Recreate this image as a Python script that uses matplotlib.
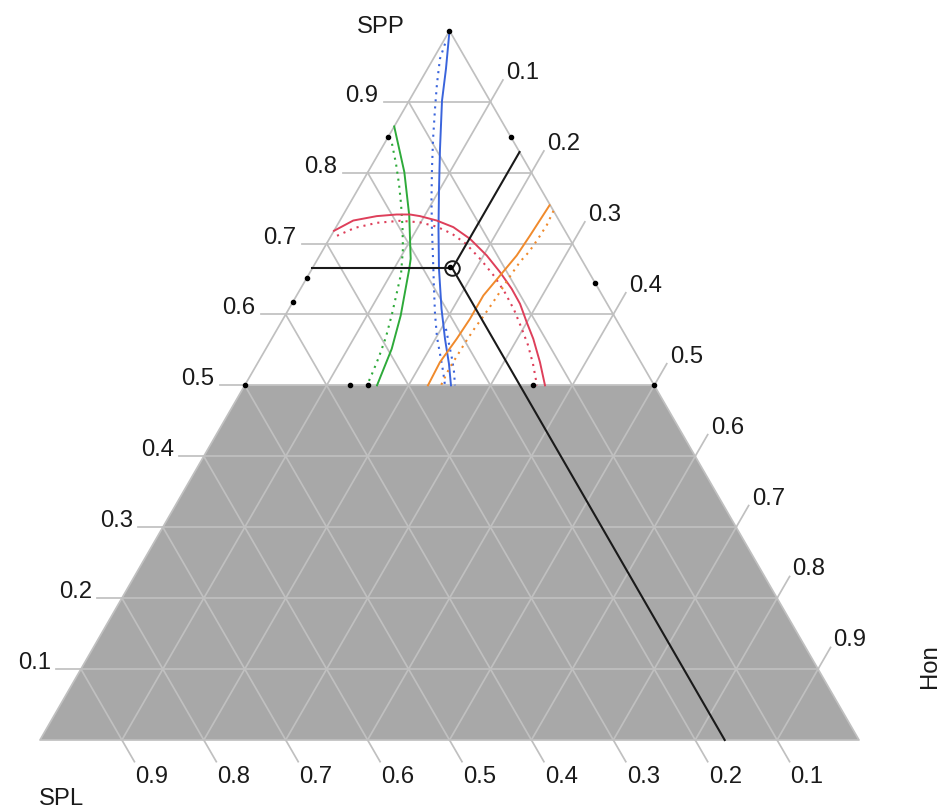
import numpy as np
import matplotlib
matplotlib.use("Agg")
import matplotlib.pyplot as plt
from matplotlib.patches import Polygon

plt.rcParams['font.family'] = ['Liberation Sans', 'DejaVu Sans']

# ---- axis ticks -------------------------------------------------------
tick_values = [0.1, 0.2, 0.3, 0.4, 0.5, 0.6, 0.7, 0.8, 0.9]
tick_labels = ["0.1", "0.2", "0.3", "0.4", "0.5", "0.6", "0.7", "0.8", "0.9"]
component_names = ["SPP", "SPL", "Hon"]

# lower limit on SPP (shaded infeasible region below it)
spp_lower_limit = 0.5

# ---- contour curves, as (SPP, Hon) mixture fractions -------------------
green_spp = [0.865, 0.8007, 0.7395, 0.6784, 0.6643, 0.5984, 0.5515, 0.50]
green_hon = [0.000, 0.0445, 0.0811, 0.1134, 0.1187, 0.1412, 0.1537, 0.1615]
green_lo_spp = [0.8406, 0.8124, 0.7842, 0.756, 0.7236, 0.6925, 0.6573, 0.6319,
                0.6008, 0.5684, 0.5402, 0.5162, 0.50]
green_lo_hon = [0.0095, 0.0285, 0.0462, 0.0628, 0.0808, 0.0969, 0.1122, 0.1200,
                0.1294, 0.1383, 0.1438, 0.1473, 0.1493]

blue_spp = [1.0, 0.9464, 0.9013, 0.8336, 0.7772, 0.7207, 0.6643, 0.6079,
            0.5656, 0.5303, 0.50]
blue_hon = [0.0, 0.0225, 0.0402, 0.0716, 0.0986, 0.1262, 0.1550, 0.1863,
            0.2117, 0.2342, 0.2518]
blue_lo_spp = [0.9817, 0.9605, 0.9252, 0.89, 0.8477, 0.8054, 0.763, 0.7207,
               0.6784, 0.6361, 0.6008, 0.5684, 0.5444, 0.5204, 0.50]
blue_lo_hon = [0.0037, 0.0081, 0.0221, 0.0373, 0.0561, 0.0759, 0.0965, 0.1182,
               0.1407, 0.1630, 0.1819, 0.2005, 0.2162, 0.2319, 0.2445]
blue_hi_spp = [0.5797, 0.5585, 0.5374, 0.519, 0.50]
blue_hi_hon = [0.2058, 0.2201, 0.2344, 0.2460, 0.2567]

red_spp = [0.7179, 0.7324, 0.7386, 0.7409, 0.7409, 0.7386, 0.7324, 0.7231,
           0.7066, 0.6831, 0.6597, 0.6361, 0.615, 0.5891, 0.5656, 0.5327, 0.50]
red_hon = [0.0, 0.0163, 0.0418, 0.0650, 0.0813, 0.0947, 0.1182, 0.1431,
           0.1717, 0.2039, 0.2318, 0.2579, 0.2786, 0.2997, 0.3195, 0.3441, 0.3666]
red_lo_spp = [0.7109, 0.7221, 0.7292, 0.732, 0.7299, 0.7236, 0.7137, 0.6996,
              0.677, 0.6544, 0.6305, 0.6065, 0.5825, 0.5571, 0.5303, 0.50]
red_lo_hon = [0.0072, 0.0235, 0.0469, 0.0736, 0.0990, 0.1229, 0.1463, 0.1703,
              0.2000, 0.2271, 0.2526, 0.2756, 0.2961, 0.3172, 0.3368, 0.3568]

orange_spp = [0.7539, 0.7113, 0.6831, 0.6549, 0.6267, 0.5938, 0.5656, 0.5327, 0.50]
orange_hon = [0.2452, 0.2427, 0.2405, 0.2343, 0.2280, 0.2281, 0.2260, 0.2220, 0.2237]
orange_hi_spp = [0.7461, 0.7264, 0.7066, 0.6883, 0.6742, 0.6558, 0.6361, 0.615,
                 0.5966, 0.5811, 0.5599, 0.5416, 0.5233, 0.50]
orange_hi_hon = [0.2539, 0.2558, 0.2548, 0.2530, 0.2490, 0.2472, 0.2460, 0.2444,
                 0.2426, 0.2405, 0.2390, 0.2384, 0.2378, 0.2396]

# ---- design points (SPP, Hon) -----------------------------------------
design_spp = [1.0, 0.85, 0.85, 0.651, 0.618, 0.645, 0.667, 0.5, 0.5, 0.5, 0.5, 0.5]
design_hon = [0.0, 0.0, 0.15, 0.0, 0.0, 0.355, 0.167, 0.0, 0.1285, 0.1506, 0.3516, 0.5]

# ---- current setting of the crosshair (SPP, Hon, SPL) ------------------
cross_spp, cross_hon, cross_spl = 0.665, 0.171, 0.164

SQ = np.sqrt(3) / 2


def to_xy(spp, hon):
    spp = np.asarray(spp, dtype=float)
    hon = np.asarray(hon, dtype=float)
    return hon + spp / 2, spp * SQ


PX = 1 / 819.0  # one pixel in data units
X0, Y0 = 40, 741  # pixel position of the SPL vertex


def px(xp, yp):
    """Figure pixel position (from top-left) to data coordinates."""
    return (xp - X0) * PX, (Y0 - yp) * PX


fig = plt.figure(figsize=(9.43, 8.12), dpi=100)
ax = fig.add_axes([0, 0, 1, 1])
ax.set_xlim(-X0 * PX, (943 - X0) * PX)
ax.set_ylim((Y0 - 812) * PX, Y0 * PX)
ax.axis('off')

grid_c = '#c0c0c0'
text_c = '#1a1a1a'
fs = 17.2
glw = 1.25

# shaded infeasible region (SPP below the lower limit)
shade = Polygon([to_xy(0, 0), to_xy(0, 1), to_xy(spp_lower_limit, 1 - spp_lower_limit),
                 to_xy(spp_lower_limit, 0)], closed=True, facecolor='#a8a8a8',
                edgecolor='none', zorder=3)
ax.add_patch(shade)

# triangle outline and grid
outline = np.array([to_xy(1, 0), to_xy(0, 0), to_xy(0, 1), to_xy(1, 0)])
ax.plot(outline[:, 0], outline[:, 1], color=grid_c, lw=glw, zorder=4)
for v in tick_values:
    # constant SPP
    x, y = to_xy([v, v], [0, 1 - v])
    ax.plot(x, y, color=grid_c, lw=glw, zorder=4)
    # constant Hon
    x, y = to_xy([0, 1 - v], [v, v])
    ax.plot(x, y, color=grid_c, lw=glw, zorder=4)
    # constant SPL
    x, y = to_xy([0, 1 - v], [1 - v, 0])
    ax.plot(x, y, color=grid_c, lw=glw, zorder=4)

# tick marks and labels
tl = 25 * PX
for v, lab in zip(tick_values, tick_labels):
    # SPP on the left edge
    x0, y0 = to_xy(v, 0)
    ax.plot([x0, x0 - tl], [y0, y0], color=grid_c, lw=glw, zorder=4)
    ax.text(x0 - tl - 5 * PX, y0 + 1 * PX, lab, ha='right', va='baseline',
            fontsize=fs, color=text_c)
    # Hon on the right edge
    x0, y0 = to_xy(1 - v, v)
    x1, y1 = x0 + tl * 0.5, y0 + tl * SQ
    ax.plot([x0, x1], [y0, y1], color=grid_c, lw=glw, zorder=4)
    ax.text(x1 + 3 * PX, y1 + 2 * PX, lab, ha='left', va='baseline',
            fontsize=fs, color=text_c)
    # SPL on the bottom edge
    x0, y0 = to_xy(0, 1 - v)
    x1, y1 = x0 + tl * 0.5, y0 - tl * SQ
    ax.plot([x0, x1], [y0, y1], color=grid_c, lw=glw, zorder=4)
    ax.text(x1 + 1 * PX, y1 - 3 * PX, lab, ha='left', va='top',
            fontsize=fs, color=text_c)

# component names
ax.text(*px(381, 33), component_names[0], ha='center', va='baseline',
        fontsize=fs, color=text_c)
ax.text(*px(39, 788), component_names[1], ha='left', va='top',
        fontsize=fs, color=text_c)
ax.text(*px(930, 666), component_names[2], ha='center', va='center',
        rotation=90, fontsize=fs, color=text_c)

# contours
dot = (0, (1.0, 2.4))
curves = [
    (green_spp, green_hon, '#2eaa3a', '-'),
    (green_lo_spp, green_lo_hon, '#2eaa3a', dot),
    (blue_spp, blue_hon, '#3a64dc', '-'),
    (blue_lo_spp, blue_lo_hon, '#3a64dc', dot),
    (blue_hi_spp, blue_hi_hon, '#3a64dc', dot),
    (red_spp, red_hon, '#de3f5a', '-'),
    (red_lo_spp, red_lo_hon, '#de3f5a', dot),
    (orange_spp, orange_hon, '#f08a2c', '-'),
    (orange_hi_spp, orange_hi_hon, '#f08a2c', dot),
]
for s, h, c, ls in curves:
    x, y = to_xy(s, h)
    lw = 1.4 if ls == '-' else 1.5
    ax.plot(x, y, color=c, lw=lw, ls=ls, zorder=5)

# crosshair through the current setting
cx, cy = to_xy(cross_spp, cross_hon)
ex, ey = to_xy(cross_spp, 0)
ax.plot([cx, ex], [cy, ey], color='#1a1a1a', lw=1.5, zorder=6)
ex, ey = to_xy(1 - cross_hon, cross_hon)
ax.plot([cx, ex], [cy, ey], color='#1a1a1a', lw=1.5, zorder=6)
ex, ey = to_xy(0, 1 - cross_spl)
ax.plot([cx, ex], [cy, ey], color='#1a1a1a', lw=1.5, zorder=6)

# design points
x, y = to_xy(design_spp, design_hon)
ax.plot(x, y, 'o', color='black', ms=3.0, zorder=7, ls='none')

ax.plot([cx], [cy], 'o', mfc='none', mec='#1a1a1a', mew=1.4, ms=10.5, zorder=8)

fig.savefig('out.png', dpi=100, facecolor='white')
